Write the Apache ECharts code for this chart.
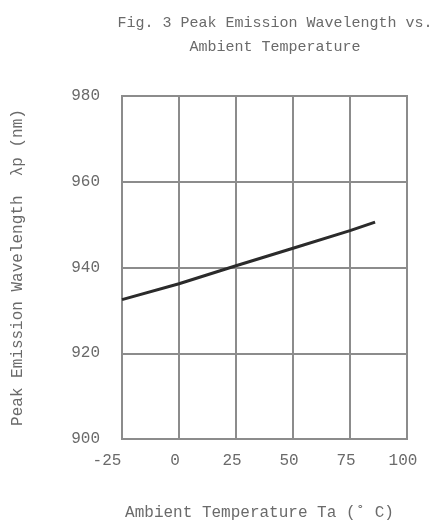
<!DOCTYPE html>
<html><head><meta charset="utf-8">
<script src="https://cdn.jsdelivr.net/npm/echarts@6/dist/echarts.min.js"></script>
<style>html,body{margin:0;padding:0;background:#fff}#c{width:433px;height:526px}</style>
</head><body><div id="c"></div>
<script>
var temps = [-25, 0, 25, 50, 75, 86];
var wavelengths = [932.5, 936.2, 940.4, 944.5, 948.6, 950.6];
var xTicks = [-25, 0, 25, 50, 75, 100];
var yTicks = [900, 920, 940, 960, 980];
var titleText = 'Fig. 3 Peak Emission Wavelength vs.\nAmbient Temperature';
var xTitle = 'Ambient Temperature Ta (\u02DA C)';
var yTitle = 'Peak Emission Wavelength  \u03BBp (nm)';

var FONT = 'Liberation Mono';
var TXT = '#6a6a6a';
var GRID = '#8c8c8c';
var chart = echarts.init(document.getElementById('c'), null, {renderer: 'canvas'});
chart.setOption({
  backgroundColor: '#fff',
  animation: false,
  title: {
    text: titleText,
    left: 270, top: 6, textAlign: 'center',
    textStyle: {fontFamily: FONT, fontSize: 15, fontWeight: 'normal', color: TXT, lineHeight: 24}
  },
  grid: {left: 122, right: 26, top: 96, bottom: 86, show: true, borderColor: GRID, borderWidth: 2},
  xAxis: {
    type: 'value', min: xTicks[0], max: xTicks[xTicks.length - 1], interval: 25,
    name: xTitle, nameLocation: 'middle', nameGap: 66,
    nameTextStyle: {fontFamily: FONT, fontSize: 16, color: TXT, padding: [0, 10, 0, 0]},
    axisLine: {show: true, lineStyle: {color: GRID, width: 2}},
    axisTick: {show: false},
    splitLine: {show: true, lineStyle: {color: GRID, width: 2}},
    axisLabel: {
      margin: 14, fontFamily: FONT, fontSize: 16, color: TXT,
      formatter: function (v) { return v === xTicks[0] ? '{f|' + v + '}' : '{n|' + v + '}'; },
      rich: {
        f: {fontFamily: FONT, fontSize: 16, color: TXT, padding: [0, 30, 0, 0]},
        n: {fontFamily: FONT, fontSize: 16, color: TXT, padding: [0, 8, 0, 0]}
      }
    }
  },
  yAxis: {
    type: 'value', min: yTicks[0], max: yTicks[yTicks.length - 1], interval: 20,
    name: yTitle, nameLocation: 'middle', nameGap: 96, nameRotate: 90,
    nameTextStyle: {fontFamily: FONT, fontSize: 16, color: TXT},
    axisLine: {show: true, lineStyle: {color: GRID, width: 2}},
    axisTick: {show: false},
    splitLine: {show: true, lineStyle: {color: GRID, width: 2}},
    axisLabel: {margin: 22, fontFamily: FONT, fontSize: 16, color: TXT}
  },
  series: [{
    type: 'line',
    data: temps.map(function (t, i) { return [t, wavelengths[i]]; }),
    showSymbol: false, symbol: 'none', smooth: false,
    lineStyle: {color: '#2b2b2b', width: 3}
  }]
});
</script></body></html>
